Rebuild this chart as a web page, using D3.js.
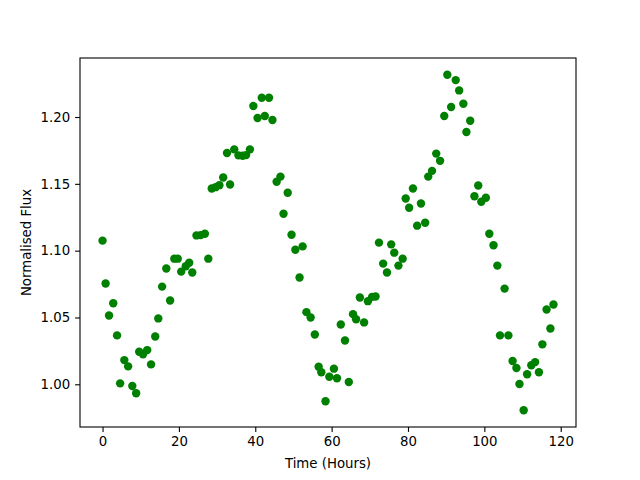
<!DOCTYPE html>
<html>
<head>
<meta charset="utf-8">
<script src="https://cdn.jsdelivr.net/npm/d3@7"></script>
<style>
  body { margin: 0; background: #fff; }
  svg { display: block; }
  text { font-family: "DejaVu Sans", sans-serif; }
</style>
</head>
<body>
<svg id="chart" width="640" height="480"></svg>
<script>
const times = [
  0.0, 0.8, 1.7, 2.8, 3.8, 4.6, 5.7, 6.7, 7.8, 8.8,
  9.6, 10.6, 11.7, 12.7, 13.8, 14.6, 15.6, 16.7, 17.7, 18.8,
  19.7, 20.6, 21.8, 22.7, 23.5, 24.6, 25.7, 26.8, 27.7, 28.6,
  29.6, 30.6, 31.6, 32.6, 33.4, 34.5, 35.6, 36.7, 37.6, 38.6,
  39.5, 40.6, 41.7, 42.5, 43.6, 44.5, 45.6, 46.6, 47.4, 48.5,
  49.5, 50.5, 51.6, 52.4, 53.4, 54.5, 55.6, 56.6, 57.3, 58.4,
  59.4, 60.6, 61.4, 62.4, 63.5, 64.5, 65.6, 66.4, 67.4, 68.5,
  69.5, 70.6, 71.5, 72.4, 73.5, 74.5, 75.6, 76.4, 77.5, 78.6,
  79.4, 80.3, 81.3, 82.4, 83.4, 84.5, 85.3, 86.3, 87.4, 88.4,
  89.5, 90.3, 91.3, 92.5, 93.4, 94.5, 95.3, 96.3, 97.4, 98.4,
  99.2, 100.4, 101.3, 102.4, 103.4, 104.1, 105.3, 106.3, 107.4, 108.4,
  109.2, 110.3, 111.2, 112.3, 113.3, 114.3, 115.2, 116.3, 117.3, 118.1
];
const flux = [
  1.1075, 1.0754, 1.0515, 1.0607, 1.0366, 1.0007, 1.0181, 1.0134, 0.9987, 0.9933,
  1.0243, 1.0224, 1.0256, 1.0149, 1.0358, 1.0493, 1.0731, 1.0866, 1.0627, 1.0940,
  1.0940, 1.0843, 1.0883, 1.0910, 1.0836, 1.1114, 1.1116, 1.1127, 1.0940, 1.1465,
  1.1475, 1.1490, 1.1547, 1.1731, 1.1495, 1.1758, 1.1713, 1.1710, 1.1715, 1.1758,
  1.2082, 1.1993, 1.2144, 1.2007, 1.2144, 1.1978, 1.1515, 1.1554, 1.1276, 1.1433,
  1.1119, 1.1007, 1.0799, 1.1032, 1.0540, 1.0500, 1.0373, 1.0131, 1.0090, 0.9873,
  1.0057, 1.0117, 1.0045, 1.0448, 1.0328, 1.0017, 1.0525, 1.0487, 1.0649, 1.0463,
  1.0622, 1.0654, 1.0657, 1.1060, 1.0903, 1.0836, 1.1047, 1.0985, 1.0888, 1.0940,
  1.1390, 1.1321, 1.1465, 1.1187, 1.1353, 1.1209, 1.1554, 1.1597, 1.1726, 1.1672,
  1.2007, 1.2316, 1.2075, 1.2276, 1.2199, 1.2099, 1.1888, 1.1972, 1.1407, 1.1487,
  1.1366, 1.1396, 1.1127, 1.1040, 1.0888, 1.0366, 1.0716, 1.0366, 1.0174, 1.0122,
  1.0002, 0.9806, 1.0075, 1.0142, 1.0166, 1.0090, 1.0299, 1.0560, 1.0418, 1.0597
];
const xTicks = [0, 20, 40, 60, 80, 100, 120];
const yTicks = [1.00, 1.05, 1.10, 1.15, 1.20];
const xLabel = "Time (Hours)";
const yLabel = "Normalised Flux";

const mLeft = 80, mRight = 576, mTop = 58, mBottom = 427;
const svg = d3.select("#chart");

const xMin = d3.min(times), xMax = d3.max(times);
const yMin = d3.min(flux), yMax = d3.max(flux);
const xPad = (xMax - xMin) * 0.05, yPad = (yMax - yMin) * 0.05;

const x = d3.scaleLinear().domain([xMin - xPad, xMax + xPad]).range([mLeft, mRight]);
const y = d3.scaleLinear().domain([yMin - yPad, yMax + yPad]).range([mBottom, mTop]);

const pts = times.map((t, i) => ({ t, f: flux[i] }));

svg.append("g")
  .selectAll("circle")
  .data(pts)
  .enter().append("circle")
  .attr("cx", d => x(d.t))
  .attr("cy", d => y(d.f))
  .attr("r", 4.2)
  .attr("fill", "#008000");

const fontSize = "13.3px";

const xAxis = svg.append("g")
  .attr("transform", `translate(0,${mBottom})`)
  .call(d3.axisBottom(x).tickValues(xTicks).tickFormat(d3.format("d")).tickSize(4.9).tickPadding(4.9));
const yAxis = svg.append("g")
  .attr("transform", `translate(${mLeft},0)`)
  .call(d3.axisLeft(y).tickValues(yTicks).tickFormat(d3.format(".2f")).tickSize(4.9).tickPadding(4.9));

[xAxis, yAxis].forEach(a => {
  a.select(".domain").remove();
  a.selectAll("line").attr("stroke", "#000").attr("stroke-width", 1.1);
  a.selectAll("text").attr("font-family", "DejaVu Sans, sans-serif").attr("font-size", fontSize).attr("fill", "#000");
});

svg.append("rect")
  .attr("x", mLeft).attr("y", mTop)
  .attr("width", mRight - mLeft).attr("height", mBottom - mTop)
  .attr("fill", "none").attr("stroke", "#000").attr("stroke-width", 1.1);

svg.append("text")
  .attr("x", (mLeft + mRight) / 2).attr("y", 468)
  .attr("text-anchor", "middle")
  .attr("font-size", fontSize)
  .text(xLabel);

svg.append("text")
  .attr("transform", `translate(31,${(mTop + mBottom) / 2}) rotate(-90)`)
  .attr("text-anchor", "middle")
  .attr("font-size", fontSize)
  .text(yLabel);
</script>
</body>
</html>
